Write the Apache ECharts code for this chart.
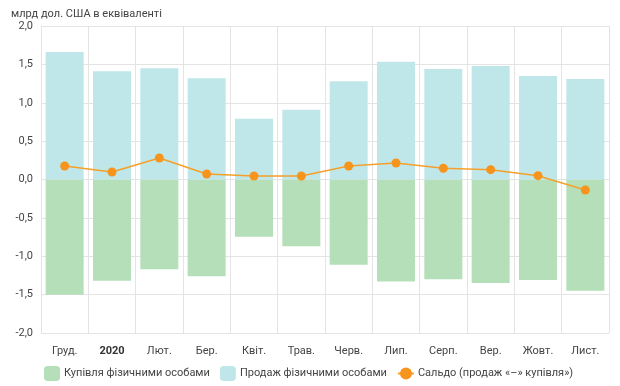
<!DOCTYPE html>
<html><head><meta charset="utf-8">
<script src="https://cdn.jsdelivr.net/npm/echarts@6/dist/echarts.min.js"></script>
<style>html,body{margin:0;padding:0;background:#fff}#c{width:620px;height:386px}</style>
</head><body><div id="c"></div>
<script>
var categories = ['Груд.', '2020', 'Лют.', 'Бер.', 'Квіт.', 'Трав.', 'Черв.', 'Лип.', 'Серп.', 'Вер.', 'Жовт.', 'Лист.'];
var purchases = [-1.50, -1.32, -1.17, -1.26, -0.745, -0.87, -1.11, -1.33, -1.30, -1.35, -1.31, -1.45];
var sales = [1.66, 1.41, 1.45, 1.32, 0.79, 0.91, 1.28, 1.535, 1.44, 1.48, 1.35, 1.31];
var saldo = [0.176, 0.098, 0.28, 0.072, 0.046, 0.046, 0.176, 0.215, 0.146, 0.128, 0.05, -0.137];
var yTicks = [-2, -1.5, -1, -0.5, 0, 0.5, 1, 1.5, 2];

var chart = echarts.init(document.getElementById('c'), null, {renderer: 'canvas'});
var font = 'Roboto, "Noto Sans", sans-serif';
chart.setOption({
  animation: false,
  textStyle: {fontFamily: font},
  title: {text: 'млрд дол. США в еквіваленті', left: 6, top: 4,
    textStyle: {fontSize: 11, fontWeight: 'normal', color: '#444', fontFamily: font}},
  grid: {left: 41, right: 11, top: 26, bottom: 53},
  legend: {
    bottom: 0, left: 39, width: 580, itemGap: 10, itemWidth: 16, itemHeight: 15,
    textStyle: {fontSize: 11, color: '#444', fontFamily: font, padding: [0, 0, 0, -1]},
    data: [
      {name: 'Купівля фізичними особами', icon: 'roundRect'},
      {name: 'Продаж фізичними особами', icon: 'roundRect'},
      {name: 'Сальдо (продаж «–» купівля»)'}
    ]
  },
  xAxis: {
    type: 'category', data: categories,
    axisLine: {show: false}, axisTick: {show: false},
    splitLine: {show: true, interval: 0, lineStyle: {color: '#e4e4e4'}},
    axisLabel: {
      interval: 0, margin: 13, fontSize: 11, color: '#444',
      formatter: function (v) { return v === '2020' ? '{b|' + v + '}' : v; },
      rich: {b: {fontWeight: 'bold', fontSize: 11, color: '#333'}}
    }
  },
  yAxis: {
    type: 'value', min: -2, max: 2, interval: 0.5,
    axisLine: {show: true, lineStyle: {color: '#e4e4e4'}},
    splitLine: {lineStyle: {color: '#e4e4e4'}},
    axisLabel: {fontSize: 11, color: '#444', margin: 8,
      formatter: function (v) { return v.toFixed(1).replace('.', ','); }}
  },
  series: [
    {name: 'Купівля фізичними особами', type: 'bar', data: purchases, barWidth: 38, barGap: '-100%',
      itemStyle: {color: '#b5dfb9'}},
    {name: 'Продаж фізичними особами', type: 'bar', data: sales, barWidth: 38,
      itemStyle: {color: '#bfe7ea'}},
    {name: 'Сальдо (продаж «–» купівля»)', type: 'line', data: saldo,
      symbol: 'circle', symbolSize: 9,
      lineStyle: {color: '#f5a02a', width: 1.5},
      itemStyle: {color: '#f7941d'}}
  ]
});
</script></body></html>
